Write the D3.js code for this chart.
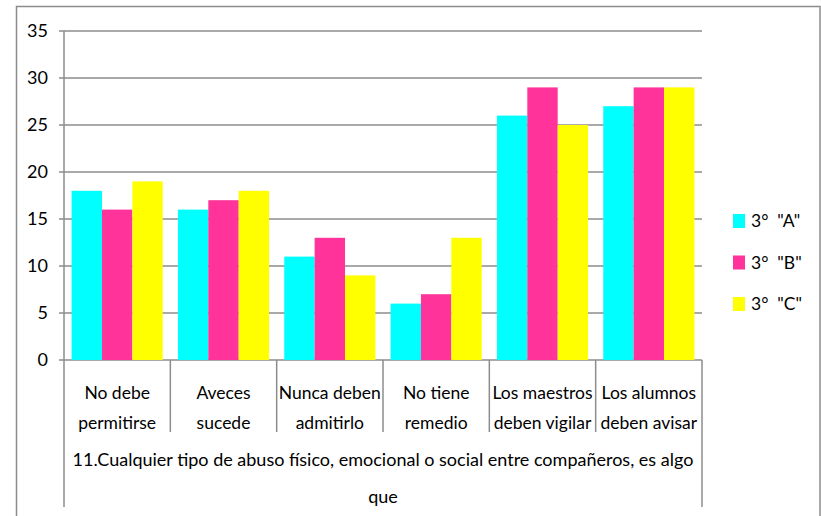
<!DOCTYPE html>
<html>
<head>
<meta charset="utf-8">
<script src="https://cdn.jsdelivr.net/npm/d3@7"></script>
<style>
  body { margin: 0; background: #fff; }
  text { font-family: Lato, "Open Sans", sans-serif; fill: #000; }
</style>
</head>
<body>
<div id="chart"></div>
<script>
const categories = [
  ["No debe", "permitirse"],
  ["Aveces", "sucede"],
  ["Nunca deben", "admitirlo"],
  ["No tiene", "remedio"],
  ["Los maestros", "deben vigilar"],
  ["Los alumnos", "deben avisar"],
];
const seriesNames = ['3°  "A"', '3°  "B"', '3°  "C"'];
const seriesA = [18, 16, 11, 6, 26, 27];
const seriesB = [16, 17, 13, 7, 29, 29];
const seriesC = [19, 18, 9, 13, 25, 29];
const yTicks = [0, 5, 10, 15, 20, 25, 30, 35];
const titleLines = [
  "11.Cualquier tipo de abuso físico, emocional o social entre compañeros, es algo",
  "que",
];

const colors = ["#00FFFF", "#FF3399", "#FFFF00"];
const width = 821, height = 516;
const plot = { left: 64, right: 702, top: 31, bottom: 360 };
const fs = "17.5px";

const svg = d3.select("#chart").append("svg")
  .attr("width", width).attr("height", height);

// outer frame
svg.append("rect")
  .attr("x", 16.5).attr("y", 6.5)
  .attr("width", 803.5).attr("height", 530)
  .attr("fill", "none").attr("stroke", "#8c8c8c").attr("stroke-width", 1.5);

const x0 = d3.scaleBand().domain(d3.range(categories.length)).range([plot.left, plot.right]);
const x1 = d3.scaleBand().domain(d3.range(3)).range([0, x0.bandwidth()]).paddingInner(0).paddingOuter(0.25);
const y = d3.scaleLinear().domain([0, 35]).range([plot.bottom, plot.top]);

// gridlines
svg.append("g").selectAll("line").data(yTicks).join("line")
  .attr("x1", plot.left - 5).attr("x2", plot.right)
  .attr("y1", d => y(d)).attr("y2", d => y(d))
  .attr("stroke", "#8c8c8c").attr("stroke-width", 1.5);

// y labels
svg.append("g").selectAll("text").data(yTicks).join("text")
  .attr("x", 48).attr("y", d => y(d)).attr("dy", "0.35em")
  .attr("text-anchor", "end").style("font-size", "18px")
  .text(d => d);

// bars
const data = [seriesA, seriesB, seriesC];
const groups = svg.append("g").selectAll("g").data(categories).join("g")
  .attr("transform", (d, i) => `translate(${x0(i)},0)`);
groups.selectAll("rect").data((d, i) => data.map(s => s[i])).join("rect")
  .attr("x", (d, j) => x1(j)).attr("width", x1.bandwidth())
  .attr("y", d => y(d)).attr("height", d => plot.bottom - y(d))
  .attr("fill", (d, j) => colors[j]);

// axes lines
svg.append("line").attr("x1", plot.left).attr("x2", plot.left).attr("y1", plot.top).attr("y2", 507)
  .attr("stroke", "#8c8c8c").attr("stroke-width", 1.5);
svg.append("line").attr("x1", plot.right).attr("x2", plot.right).attr("y1", plot.bottom).attr("y2", 507)
  .attr("stroke", "#8c8c8c").attr("stroke-width", 1.5);
svg.append("g").selectAll("line").data(d3.range(1, categories.length)).join("line")
  .attr("x1", i => x0(i)).attr("x2", i => x0(i))
  .attr("y1", plot.bottom).attr("y2", 432)
  .attr("stroke", "#8c8c8c").attr("stroke-width", 1.5);

// category labels
const cat = svg.append("g").selectAll("text").data(categories).join("text")
  .attr("text-anchor", "middle").style("font-size", fs);
cat.selectAll("tspan").data((d, i) => d.map(t => ({ t, i }))).join("tspan")
  .attr("x", d => x0(d.i) + x0.bandwidth() / 2)
  .attr("y", (d, k) => 393 + k * 30).attr("dy", "0.35em")
  .text(d => d.t);

// axis title
svg.append("g").selectAll("text").data(titleLines).join("text")
  .attr("x", (plot.left + plot.right) / 2).attr("y", (d, k) => 460 + k * 37).attr("dy", "0.35em")
  .attr("text-anchor", "middle").style("font-size", "18px")
  .text(d => d);

// legend
const legend = svg.append("g").selectAll("g").data(seriesNames).join("g")
  .attr("transform", (d, i) => `translate(733,${221 + i * 41.5})`);
legend.append("rect").attr("x", 0).attr("y", -7).attr("width", 12).attr("height", 14)
  .attr("fill", (d, i) => colors[i]);
legend.append("text").attr("x", 18).attr("y", 0).attr("dy", "0.35em")
  .style("font-size", fs).style("white-space", "pre")
  .text(d => d);
</script>
</body>
</html>
